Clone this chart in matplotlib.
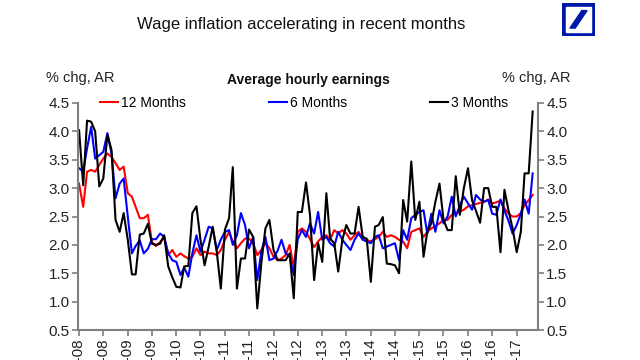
import matplotlib
matplotlib.use("Agg")
import matplotlib.pyplot as plt
from matplotlib.patches import Rectangle, Polygon
import pandas as pd

plt.rcParams['font.family'] = ['Liberation Sans', 'DejaVu Sans']

# Monthly data, Jan 2008 .. May 2017 (% chg, annualised)
start_month = '2008-01-01'

m12 = [3.08, 2.67, 3.29, 3.32, 3.29, 3.41, 3.52, 3.61, 3.55, 3.44, 3.32, 3.38,
       2.91, 2.85, 2.67, 2.47, 2.47, 2.53, 2.05, 1.98, 2.05, 2.14, 1.82, 1.91,
       1.79, 1.85, 1.80, 1.76, 1.79, 1.94, 1.82, 1.88, 1.85, 1.85, 1.82, 1.91,
       2.09, 2.23, 2.06, 1.94, 2.03, 2.11, 2.11, 2.03, 1.82, 1.91, 2.03, 1.94,
       1.79, 1.73, 1.76, 1.82, 2.00, 1.60, 2.23, 2.29, 2.23, 2.10, 1.96, 2.06,
       2.14, 2.17, 2.09, 2.26, 2.20, 2.26, 2.20, 2.09, 2.17, 2.23, 2.11, 2.09,
       2.06, 2.10, 2.14, 2.23, 2.14, 2.17, 2.14, 2.09, 2.06, 1.94, 2.23, 2.26,
       2.29, 2.14, 2.23, 2.29, 2.33, 2.38, 2.44, 2.44, 2.53, 2.55, 2.59, 2.62,
       2.68, 2.70, 2.72, 2.74, 2.76, 2.80, 2.73, 2.75, 2.78, 2.64, 2.55, 2.50,
       2.50, 2.56, 2.70, 2.79, 2.88]

m6 = [3.35, 3.29, 3.70, 4.08, 3.52, 3.58, 3.64, 3.97, 3.61, 2.82, 3.08, 3.17,
      2.50, 1.85, 1.98, 2.08, 1.85, 1.93, 2.10, 2.10, 2.20, 2.14, 1.85, 1.73,
      1.70, 1.47, 1.60, 1.44, 1.85, 2.17, 1.88, 2.09, 2.32, 2.29, 1.91, 2.09,
      2.23, 2.26, 2.00, 2.17, 2.56, 2.35, 1.94, 2.14, 1.38, 1.88, 2.14, 1.73,
      1.76, 1.90, 2.09, 1.85, 1.80, 1.47, 2.10, 2.26, 2.14, 2.38, 2.20, 2.58,
      2.09, 2.14, 2.03, 1.97, 2.23, 2.09, 2.00, 1.91, 2.09, 2.20, 2.09, 2.06,
      2.03, 2.14, 2.17, 1.94, 1.97, 2.00, 2.03, 1.73, 2.26, 2.09, 2.47, 2.53,
      2.58, 2.61, 2.20, 2.55, 2.23, 2.61, 2.38, 2.50, 2.85, 2.50, 2.70, 2.85,
      2.73, 2.62, 2.88, 2.80, 2.76, 2.79, 2.55, 2.53, 2.80, 2.60, 2.42, 2.20,
      2.35, 2.55, 2.80, 2.55, 3.26]

m3 = [4.02, 3.05, 4.19, 4.17, 4.00, 3.03, 3.17, 3.94, 3.67, 2.44, 2.23, 2.56,
      2.09, 1.48, 1.48, 2.18, 2.20, 2.37, 2.02, 2.00, 2.02, 2.17, 1.62, 1.43,
      1.26, 1.25, 1.62, 1.63, 2.56, 2.68, 2.09, 1.64, 1.97, 2.32, 1.87, 1.23,
      2.27, 2.47, 3.37, 1.23, 1.76, 1.76, 2.27, 2.14, 0.88, 1.67, 2.29, 2.44,
      1.91, 1.73, 1.73, 1.73, 1.85, 1.06, 2.58, 2.58, 3.10, 2.53, 1.38, 2.03,
      1.70, 2.91, 2.11, 2.03, 1.53, 2.09, 2.35, 2.20, 2.20, 2.67, 2.14, 2.11,
      1.35, 2.32, 2.35, 2.49, 1.67, 1.66, 1.64, 1.50, 2.79, 2.41, 3.47, 2.44,
      2.76, 1.79, 2.23, 2.38, 2.76, 3.08, 2.44, 2.26, 2.26, 3.21, 2.53, 3.00,
      3.35, 2.78, 2.60, 2.39, 3.00, 3.00, 2.67, 2.67, 1.87, 2.97, 2.60, 2.29,
      1.87, 2.23, 3.26, 3.26, 4.35]

series_labels = ['12 Months', '6 Months', '3 Months']
series_colors = ['#ff0000', '#0000ff', '#000000']
y_ticks = [0.5, 1.0, 1.5, 2.0, 2.5, 3.0, 3.5, 4.0, 4.5]

dates = pd.date_range(start_month, periods=len(m3), freq='MS')

fig = plt.figure(figsize=(6.4, 3.6), dpi=100)
ax = fig.add_axes([78 / 640, 30 / 360, 460 / 640, 227 / 360])

for vals, lab, col in zip([m12, m6, m3], series_labels, series_colors):
    ax.plot(dates, vals, color=col, lw=1.5, label=lab)

ax.set_ylim(0.5, 4.5)
ax.set_yticks(y_ticks)
ax.set_yticklabels([f'{v:.1f}' for v in y_ticks])
ax.set_xlim(pd.Timestamp('2007-12-24'), pd.Timestamp('2017-06-10'))

# half-yearly ticks; labels run off the bottom edge as in the original
tick_dates = pd.date_range('2008-01-01', '2017-01-01', freq='6MS')
ax.set_xticks(tick_dates)
ax.set_xticklabels([d.strftime('%b-%y') for d in tick_dates], rotation=90,
                   va='top', ha='center')

spine_col = '#808080'
for side in ['top', 'right']:
    ax.spines[side].set_visible(False)
for side in ['left', 'bottom']:
    ax.spines[side].set_color(spine_col)
    ax.spines[side].set_linewidth(1.5)
ax.tick_params(axis='both', direction='out', length=4, width=1.2,
               color=spine_col, labelsize=11, labelcolor='#222222', pad=2)

ax2 = ax.twinx()
ax2.set_ylim(0.5, 4.5)
ax2.set_yticks(y_ticks)
ax2.set_yticklabels([f'{v:.1f}' for v in y_ticks])
for side in ['top', 'left', 'bottom']:
    ax2.spines[side].set_visible(False)
ax2.spines['right'].set_color(spine_col)
ax2.spines['right'].set_linewidth(1.5)
ax2.tick_params(axis='y', direction='out', length=4, width=1.2,
                color=spine_col, labelsize=11, labelcolor='#222222', pad=2)

ax.legend(loc='center left', bbox_to_anchor=(0.048, 1.0), ncol=3,
          frameon=False, fontsize=10, handlelength=1.3, handletextpad=0.2,
          columnspacing=6.0, borderpad=0, borderaxespad=0)

fig.text(0.47, 1 - 24 / 360, 'Wage inflation accelerating in recent months',
         ha='center', va='center', fontsize=12, color='#111111')
fig.text(308 / 640, 1 - 80 / 360, 'Average hourly earnings',
         ha='center', va='center', fontsize=10, fontweight='bold', color='#111111')
fig.text(46 / 640, 1 - 78 / 360, '% chg, AR', ha='left', va='center',
         fontsize=10.5, color='#222222')
fig.text(571 / 640, 1 - 78 / 360, '% chg, AR', ha='right', va='center',
         fontsize=10.5, color='#222222')

# logo
db_blue = '#0018a8'
lax = fig.add_axes([562 / 640, 1 - 36 / 360, 33 / 640, 33 / 360])
lax.set_xlim(0, 1)
lax.set_ylim(0, 1)
lax.axis('off')
lax.add_patch(Rectangle((0, 0), 1, 1, color=db_blue))
lax.add_patch(Rectangle((0.12, 0.12), 0.76, 0.76, color='white'))
lax.add_patch(Polygon([(0.24, 0.24), (0.40, 0.24), (0.76, 0.77), (0.60, 0.77)],
                      closed=True, color=db_blue))

fig.savefig('out.png', dpi=100)
